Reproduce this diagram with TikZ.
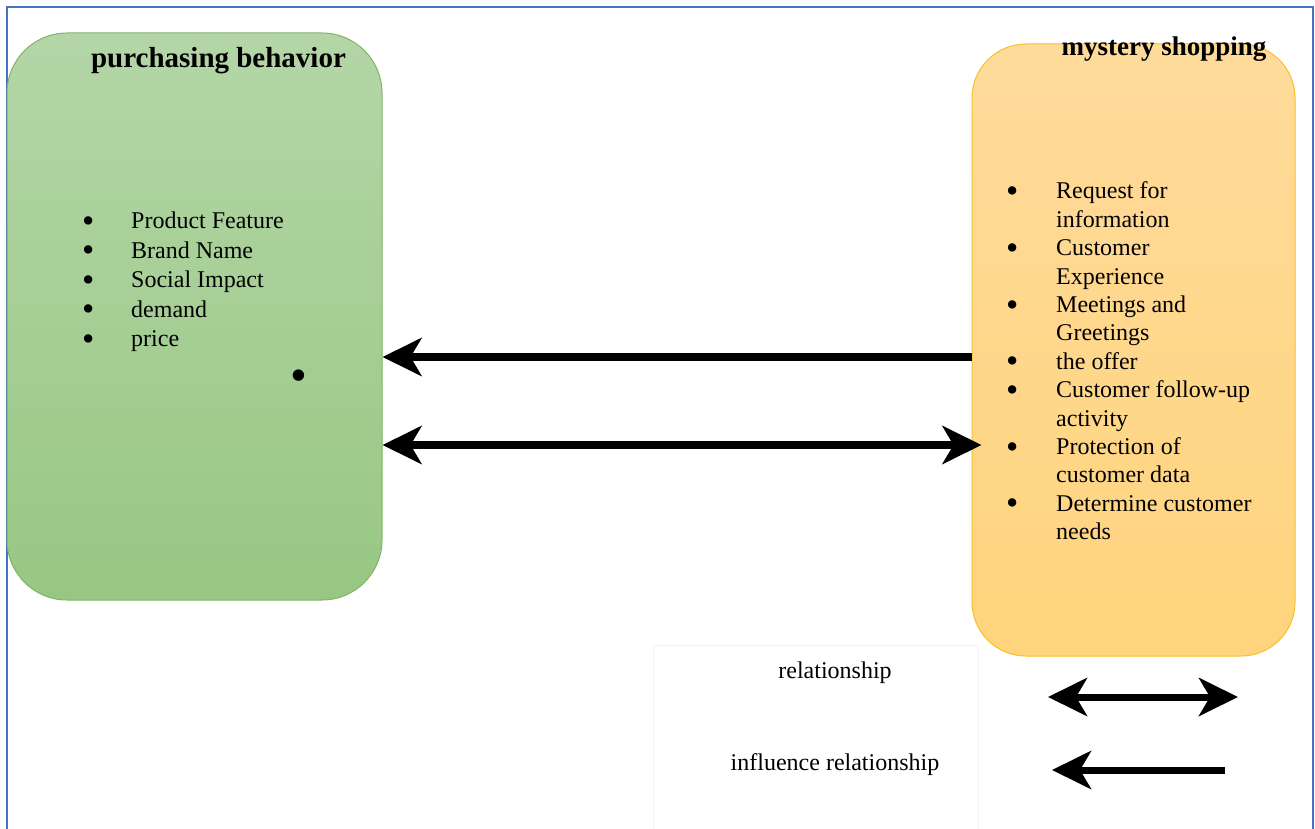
\documentclass[tikz,border=0pt]{standalone}
\usepackage{fontspec}
\setmainfont{Liberation Serif}
\usetikzlibrary{arrows.meta}
\definecolor{frameblue}{HTML}{4472C4}
\definecolor{gtop}{HTML}{B4D6A7}
\definecolor{gbot}{HTML}{98C783}
\definecolor{gline}{HTML}{82B366}
\definecolor{otop}{HTML}{FFDB9B}
\definecolor{obot}{HTML}{FFD47D}
\definecolor{oline}{HTML}{F7BF2A}
\definecolor{legline}{HTML}{F3F3F3}
\newcommand{\bigbul}{\smash{\raisebox{-3.5pt}{\fontsize{35}{35}\selectfont\textbullet}}}
\begin{document}
\begin{tikzpicture}[x=1pt,y=-1pt,
  box/.style={draw, line width=1pt, inner sep=0pt},
  tipA/.tip={Stealth[length=39pt,width=38pt,inset=11pt]},
  relarrow/.style={line width=8pt, tipA-tipA},
  inflarrow/.style={line width=8pt, -tipA},
  legrel/.style={line width=7pt, tipA-tipA},
  leginfl/.style={line width=7pt, -tipA},
  titletxt/.style={font=\bfseries\fontsize{29}{29}\selectfont, anchor=base, inner sep=0pt},
  listtxt/.style={anchor=base west, inner sep=0pt},
  legtxt/.style={font=\fontsize{24}{24}\selectfont, anchor=base, inner sep=0pt}]
\useasboundingbox (0,0) rectangle (1315,829);
\fill[white] (0,0) rectangle (1315,829);
% outer frame
\draw[frameblue, line width=2pt] (7,840) -- (7,7) -- (1313,7) -- (1313,840);
% boxes
\node[box, draw=gline, rounded corners=60pt, top color=gtop, bottom color=gbot,
  minimum width=375pt, minimum height=567pt] (pb) at (194.5,316.5) {};
\node[box, draw=oline, rounded corners=54pt, top color=otop, bottom color=obot,
  minimum width=323pt, minimum height=612pt] (ms) at (1133.5,350) {};
% titles
\node[titletxt] (pbt) at (218.5,68) {purchasing behavior};
\node[titletxt, font=\bfseries\fontsize{27}{27}\selectfont] (mst) at (1164,56) {mystery shopping};
% left list
\node[listtxt, font=\fontsize{24}{29.5}\selectfont] (pbl) at (82,229) {%
\begin{tabular}[t]{@{}p{49pt}@{}l@{}}
\bigbul & Product Feature\\
\bigbul & Brand Name\\
\bigbul & Social Impact\\
\bigbul & demand\\
\bigbul & price
\end{tabular}};
\node[anchor=base, inner sep=0pt, font=\fontsize{48}{48}\selectfont] (dot) at (299,391) {\textbullet};
% right list
\node[listtxt, font=\fontsize{24}{28.4}\selectfont] (msl) at (1006,199) {%
\begin{tabular}[t]{@{}p{50pt}@{}l@{}}
\bigbul & Request for\\
 & information\\
\bigbul & Customer\\
 & Experience\\
\bigbul & Meetings and\\
 & Greetings\\
\bigbul & the offer\\
\bigbul & Customer follow-up\\
 & activity\\
\bigbul & Protection of\\
 & customer data\\
\bigbul & Determine customer\\
 & needs
\end{tabular}};
% main arrows
\draw[inflarrow] ([yshift=-7pt]ms.west) -- ([yshift=-7pt]ms.west -| pb.east);
\draw[relarrow] ([yshift=-95pt]ms.west -| pb.east) -- ([xshift=10pt,yshift=-95pt]ms.west);
% legend
\node[draw=legline, line width=1pt, fill=white, minimum width=325pt, minimum height=200pt, inner sep=0pt] (leg) at (815.5,745) {};
\node[legtxt] (l1t) at (835,678) {relationship};
\node[legtxt] (l2t) at (835,770) {influence relationship};
\coordinate (l1a) at (1048,697);
\coordinate (l1b) at (1238,697);
\coordinate (l2a) at (1225,770);
\coordinate (l2b) at (1052,770);
\draw[legrel] (l1a) -- (l1b);
\draw[leginfl] (l2a) -- (l2b);
\end{tikzpicture}
\end{document}
